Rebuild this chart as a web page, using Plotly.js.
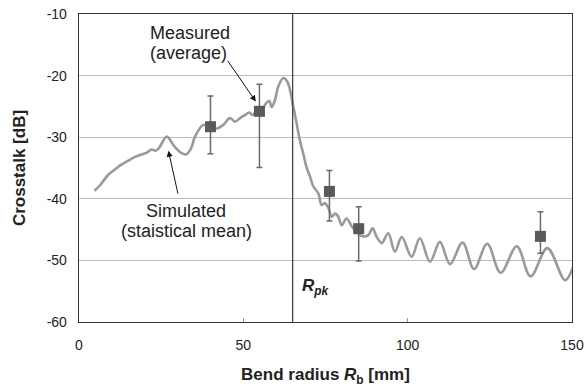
<!DOCTYPE html>
<html>
<head>
<meta charset="utf-8">
<script src="https://cdn.plot.ly/plotly-3.0.1.min.js"></script>
<style>html,body{margin:0;padding:0;background:#fff;}#chart{width:587px;height:387px;}</style>
</head>
<body>
<div id="chart"></div>
<script>
// Simulated crosstalk (statistical mean)
const simX = [4.7, 6.4, 8.9, 11.0, 13.0, 15.0, 17.0, 19.1, 20.6, 22.1, 23.3, 24.3, 26.7, 29.0, 31.2, 32.5, 34.1, 35.3, 37.8, 40.0, 41.9, 43.9, 45.9, 47.5, 49.0, 50.5, 51.8, 52.8, 54.0, 55.6, 56.9, 57.9, 58.6, 59.6, 60.6, 62.2, 63.4, 64.4, 65.2, 66.2, 67.2, 68.2, 69.3, 70.3, 71.3, 72.8, 73.8, 74.8, 75.9, 76.9, 77.9, 78.9, 79.9, 81.4, 83.0, 84.5, 86.5, 88.0, 89.3, 90.6, 92.1, 94.1, 96.1, 98.2, 101.2, 103.7, 106.8, 109.8, 112.9, 116.7, 120.2, 124.2, 128.3, 133.2, 137.4, 142.5, 147.9, 150.4];
const simY = [-38.7, -37.8, -36.1, -35.2, -34.4, -33.8, -33.2, -32.8, -32.5, -32.0, -32.2, -31.8, -29.9, -31.5, -32.6, -32.8, -31.8, -29.9, -28.0, -28.5, -28.6, -28.0, -26.9, -27.5, -26.9, -26.4, -26.0, -26.4, -25.7, -25.6, -24.5, -24.1, -25.1, -24.0, -21.8, -20.4, -21.0, -22.8, -25.0, -27.7, -30.5, -32.6, -35.0, -36.4, -38.0, -39.1, -41.0, -40.7, -41.5, -42.9, -42.4, -42.9, -44.3, -43.2, -44.5, -45.4, -46.1, -45.9, -44.8, -46.2, -47.2, -45.6, -48.6, -46.2, -49.4, -46.4, -50.2, -47.0, -50.6, -47.1, -51.4, -47.3, -52.0, -47.7, -52.6, -48.0, -53.2, -51.0];

// Measured (average) with error bars
const measX = [40.0, 54.9, 76.2, 85.1, 140.4];
const measY = [-28.3, -25.8, -38.8, -44.85, -46.1];
const errUp = [5.0, 4.4, 3.4, 3.55, 4.0];
const errDown = [4.4, 9.1, 4.8, 5.25, 2.75];

const rpk = 65;
const xTicks = [0, 50, 100, 150];
const yTicks = [-10, -20, -30, -40, -50, -60];

const traces = [
  {
    x: simX, y: simY, type: 'scatter', mode: 'lines',
    line: {color: '#9a9a9a', width: 2.6, shape: 'spline', smoothing: 1},
    hoverinfo: 'skip'
  },
  {
    x: measX, y: measY, type: 'scatter', mode: 'markers',
    marker: {symbol: 'square', size: 11, color: '#5a5a5a'},
    error_y: {type: 'data', symmetric: false, array: errUp, arrayminus: errDown,
              color: '#6a6a6a', thickness: 1.5, width: 3}
  }
];

const txtFont = {family: 'Liberation Sans, Arial, sans-serif', size: 18, color: '#222'};

const layout = {
  width: 587, height: 387,
  margin: {l: 79, r: 15, t: 14, b: 65, pad: 0},
  paper_bgcolor: '#fff', plot_bgcolor: '#fff',
  showlegend: false,
  font: {family: 'Liberation Sans, Arial, sans-serif', size: 14, color: '#222'},
  xaxis: {
    range: [0, 150], tickvals: xTicks, ticktext: xTicks.map(String),
    showgrid: false, zeroline: false,
    showline: true, linecolor: '#333', linewidth: 1.3, mirror: true,
    ticks: 'inside', ticklen: 4, tickcolor: '#999', tickwidth: 1,
    ticklabelstandoff: 10,
    tickfont: {size: 14, color: '#222'},
    title: {text: '<b>Bend radius <i>R</i><sub>b</sub> [mm]</b>', font: {size: 17, color: '#222'}, standoff: 22}
  },
  yaxis: {
    range: [-60, -10], tickvals: yTicks, ticktext: yTicks.map(String),
    showgrid: true, gridcolor: '#bdbdbd', gridwidth: 1,
    zeroline: false,
    showline: true, linecolor: '#333', linewidth: 1.3, mirror: true,
    ticks: '', ticklabelstandoff: 8,
    tickfont: {size: 14, color: '#222'},
    title: {text: '<b>Crosstalk [dB]</b>', font: {size: 17, color: '#222'}, standoff: 16}
  },
  shapes: [
    {type: 'line', xref: 'x', yref: 'paper', x0: rpk, x1: rpk, y0: 0, y1: 1,
     line: {color: '#444', width: 1.3}}
  ],
  annotations: [
    {x: 33.8, y: -13.1, xref: 'x', yref: 'y', text: 'Measured', showarrow: false, font: txtFont},
    {x: 33.3, y: -16.4, xref: 'x', yref: 'y', text: '(average)', showarrow: false, font: txtFont},
    {x: 53.8, y: -24.2, xref: 'x', yref: 'y', ax: 44.9, ay: -17.35, axref: 'x', ayref: 'y',
     text: '', showarrow: true, arrowhead: 2, arrowsize: 1.2, arrowwidth: 1, arrowcolor: '#111'},
    {x: 32.7, y: -41.9, xref: 'x', yref: 'y', text: 'Simulated', showarrow: false, font: txtFont},
    {x: 32.7, y: -45.2, xref: 'x', yref: 'y', text: '(staistical mean)', showarrow: false, font: txtFont},
    {x: 27.2, y: -32.2, xref: 'x', yref: 'y', ax: 30.2, ay: -39.4, axref: 'x', ayref: 'y',
     text: '', showarrow: true, arrowhead: 2, arrowsize: 1.2, arrowwidth: 1, arrowcolor: '#111'},
    {x: rpk + 2.2, y: -54.3, xref: 'x', yref: 'y', xanchor: 'left', text: '<b><i>R<sub>pk</sub></i></b>',
     showarrow: false, font: {family: 'Liberation Sans, Arial, sans-serif', size: 17, color: '#222'}}
  ]
};

Plotly.newPlot('chart', traces, layout, {displayModeBar: false, staticPlot: true});
</script>
</body>
</html>
